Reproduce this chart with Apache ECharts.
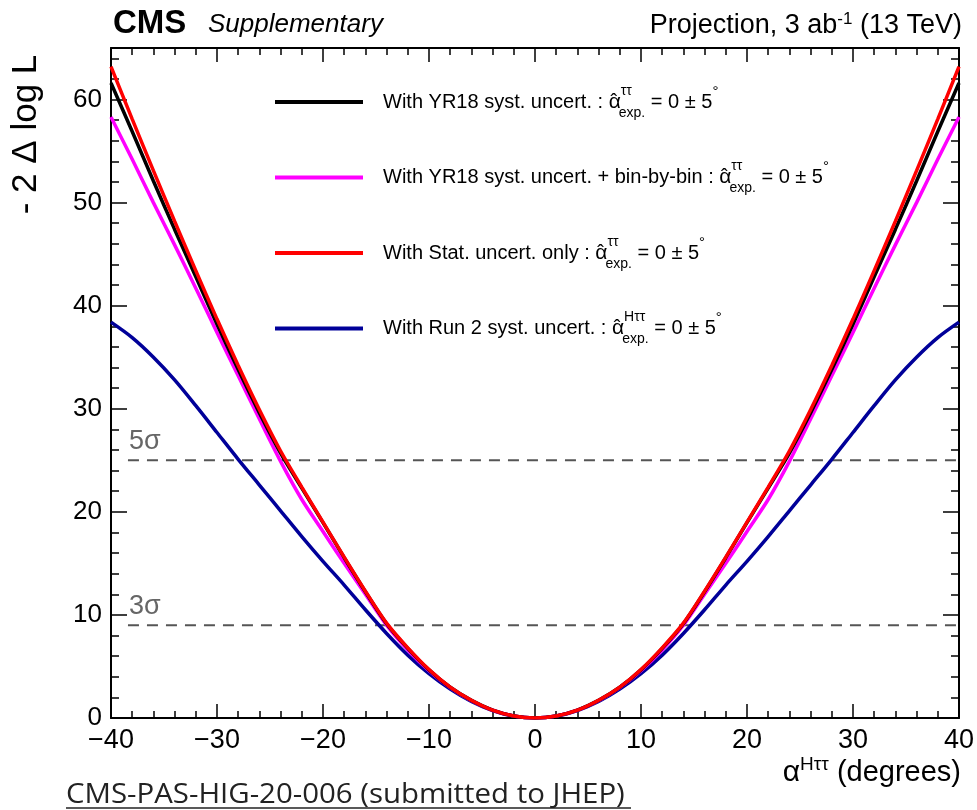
<!DOCTYPE html>
<html>
<head>
<meta charset="utf-8">
<title>alpha Htautau likelihood scan</title>
<script src="https://cdn.jsdelivr.net/npm/echarts@6/dist/echarts.min.js"></script>
<style>
  html, body { margin: 0; padding: 0; background: #fff; }
  #main { width: 977px; height: 810px; }
</style>
</head>
<body>
<div id="main"></div>
<script>
// scan points, degrees
const angles = [-40, -38, -36, -34, -32, -30, -28, -26, -24, -22, -20, -18, -16, -14, -12, -10, -8, -6, -4, -2, 0,
  2, 4, 6, 8, 10, 12, 14, 16, 18, 20, 22, 24, 26, 28, 30, 32, 34, 36, 38, 40]

// -2 delta log L
const yr18Syst = [61.6, 56.9, 52.1, 47.4, 42.8, 38.2, 33.8, 29.6, 25.7, 22.3, 18.95, 15.55, 12.25, 9.15, 6.76, 4.67, 2.98, 1.71, 0.76, 0.19, 0,
  0.19, 0.76, 1.71, 2.98, 4.67, 6.76, 9.15, 12.25, 15.55, 18.95, 22.3, 25.7, 29.6, 33.8, 38.2, 42.8, 47.4, 52.1, 56.9, 61.6]
const yr18BinByBin = [58.3, 54.2, 50.0, 45.9, 41.7, 37.4, 33.2, 29.0, 24.9, 21.2, 18.1, 15.0, 12.0, 9.0, 6.6, 4.6, 2.95, 1.68, 0.75, 0.19, 0,
  0.19, 0.75, 1.68, 2.95, 4.6, 6.6, 9.0, 12.0, 15.0, 18.1, 21.2, 24.9, 29.0, 33.2, 37.4, 41.7, 45.9, 50.0, 54.2, 58.3]
const statOnly = [63.2, 58.1, 53.1, 48.2, 43.4, 38.7, 34.2, 29.9, 25.9, 22.4, 19.0, 15.6, 12.3, 9.2, 6.8, 4.7, 3.0, 1.72, 0.76, 0.19, 0,
  0.19, 0.76, 1.72, 3.0, 4.7, 6.8, 9.2, 12.3, 15.6, 19.0, 22.4, 25.9, 29.9, 34.2, 38.7, 43.4, 48.2, 53.1, 58.1, 63.2]
const run2Syst = [38.4, 36.9, 35.0, 32.8, 30.3, 27.7, 25.1, 22.6, 20.1, 17.6, 15.2, 12.9, 10.5, 8.2, 6.1, 4.3, 2.8, 1.6, 0.72, 0.18, 0,
  0.18, 0.72, 1.6, 2.8, 4.3, 6.1, 8.2, 10.5, 12.9, 15.2, 17.6, 20.1, 22.6, 25.1, 27.7, 30.3, 32.8, 35.0, 36.9, 38.4]

const sigmaLevels = [25, 9]
const sigmaNames = ['5σ', '3σ']
const sigmaStart = -38.4

const seriesNames = ['With YR18 syst. uncert.', 'With YR18 syst. uncert. + bin-by-bin', 'With Stat. uncert. only', 'With Run 2 syst. uncert.']
const seriesColors = ['#000000', '#ff00ff', '#ff0000', '#000099']
const seriesValues = [yr18Syst, yr18BinByBin, statOnly, run2Syst]
const supTexts = ['ττ', 'ττ', 'ττ', 'Hττ']

const FONT = "'Liberation Sans', Arial, Helvetica, sans-serif"

function pairs (vals) {
  return angles.map((a, i) => [a, vals[i]])
}

function minus (v) {
  return v < 0 ? '\u2212' + Math.abs(v) : String(v)
}

const legendRich = {
  g: { width: 15 },
  t: { fontSize: 20, fontFamily: FONT, color: '#000', lineHeight: 36 },
  a: { fontSize: 21, fontFamily: FONT, color: '#000', lineHeight: 36 },
  // hat pulled back over the alpha, zero net advance
  hat: { fontSize: 20, fontFamily: FONT, color: '#000', lineHeight: 36, padding: [0, 3.6, 0, -10.3] },
  sup: { fontSize: 14, fontFamily: FONT, color: '#000', lineHeight: 16, verticalAlign: 'top' },
  sub: { fontSize: 14, fontFamily: FONT, color: '#000', lineHeight: 16, verticalAlign: 'bottom', padding: [0, 0, 0, -13] },
  sub2: { fontSize: 14, fontFamily: FONT, color: '#000', lineHeight: 16, verticalAlign: 'bottom', padding: [0, 0, 0, -23] },
  deg: { fontSize: 15, fontFamily: FONT, color: '#000', lineHeight: 12, verticalAlign: 'top' }
}

function legendText (name) {
  const i = seriesNames.indexOf(name)
  const sub = supTexts[i].length > 2 ? 'sub2' : 'sub'
  return '{g|}{t|' + name + ' : }{a|α}{hat|ˆ}{sup|' + supTexts[i] + '}{' + sub + '|exp.}{t| = 0 ± 5}{deg|°}'
}

function tickAxis (pos, interval, len, withLabel, withLine) {
  const isX = pos === 'top' || pos === 'bottom'
  return {
    type: 'value',
    position: pos,
    min: isX ? -40 : 0,
    max: isX ? 40 : 65,
    interval: interval,
    axisLine: { show: withLine, onZero: false, lineStyle: { color: '#000', width: 2 } },
    axisTick: { show: true, inside: true, length: len, lineStyle: { color: '#000', width: 1.5 } },
    minorTick: isX ? { show: true, splitNumber: 5, length: 7, lineStyle: { color: '#000', width: 1.5 } } : { show: false },
    splitLine: { show: false },
    axisLabel: withLabel ? {
      show: true,
      fontSize: isX ? 27 : 26,
      fontFamily: FONT,
      color: '#000',
      margin: 9,
      showMaxLabel: isX,
      formatter: minus
    } : { show: false }
  }
}

const chart = echarts.init(document.getElementById('main'))

const series = []
sigmaLevels.forEach((lvl, i) => {
  series.push({
    name: sigmaNames[i],
    type: 'line',
    data: [[sigmaStart, lvl], [40, lvl]],
    symbol: 'none',
    silent: true,
    z: 1,
    lineStyle: { color: '#555', width: 2, type: [11, 8] }
  })
})
// draw order: blue, magenta, black, red on top
;[3, 1, 0, 2].forEach((k, j) => {
  series.push({
    name: seriesNames[k],
    type: 'line',
    data: pairs(seriesValues[k]),
    symbol: 'none',
    smooth: 0.3,
    silent: true,
    z: 3 + j,
    color: seriesColors[k],
    itemStyle: { color: seriesColors[k] },
    lineStyle: { color: seriesColors[k], width: 3.5 }
  })
})

chart.setOption({
  animation: false,
  backgroundColor: '#fff',
  grid: { left: 111, right: 16, top: 48, bottom: 92, containLabel: false },
  xAxis: [
    tickAxis('bottom', 10, 14, true, true),
    tickAxis('top', 10, 14, false, true)
  ],
  yAxis: [
    tickAxis('left', 10, 16, true, true),
    tickAxis('left', 2, 8, false, false),
    tickAxis('right', 10, 16, false, true),
    tickAxis('right', 2, 8, false, false)
  ],
  legend: {
    data: seriesNames,
    orient: 'vertical',
    left: 270,
    top: 79,
    itemWidth: 88,
    itemHeight: 4,
    itemGap: 39.5,
    icon: 'rect',
    selectedMode: false,
    formatter: legendText,
    textStyle: { fontFamily: FONT, fontSize: 20, color: '#000', rich: legendRich }
  },
  series: series
})

const graphics = [
  {
    type: 'text', x: 113, y: 24,
    style: { text: 'CMS', font: 'bold 33px ' + FONT, fill: '#000', verticalAlign: 'middle' }
  },
  {
    type: 'text', x: 208, y: 24.5,
    style: { text: 'Supplementary', font: 'italic 26px ' + FONT, fill: '#000', verticalAlign: 'middle' }
  },
  {
    type: 'text', x: 962, y: 26,
    style: {
      text: '{p|Projection, 3 ab}{s|-1}{p| (13 TeV)}',
      align: 'right',
      verticalAlign: 'middle',
      rich: {
        p: { fontSize: 27, fontFamily: FONT, color: '#000', lineHeight: 30 },
        s: { fontSize: 17, fontFamily: FONT, color: '#000', lineHeight: 16, verticalAlign: 'top' }
      }
    }
  },
  {
    type: 'text', x: 26, y: 134.5, rotation: Math.PI / 2,
    style: { text: '- 2 Δ log L', fontSize: 35, fontFamily: FONT, fill: '#000', align: 'center', verticalAlign: 'middle' }
  },
  {
    type: 'text', x: 961, y: 773,
    style: {
      text: '{a|α}{s|Hττ}{t| (degrees)}',
      align: 'right',
      verticalAlign: 'middle',
      rich: {
        a: { fontSize: 30, fontFamily: FONT, color: '#000', lineHeight: 36 },
        s: { fontSize: 19, fontFamily: FONT, color: '#000', lineHeight: 20, verticalAlign: 'top' },
        t: { fontSize: 29, fontFamily: FONT, color: '#000', lineHeight: 36 }
      }
    }
  },
  {
    type: 'text', x: 66, y: 795, scaleX: 1.05,
    style: { text: 'CMS-PAS-HIG-20-006 (submitted to JHEP)', fontSize: 28, fontFamily: "'Open Sans', sans-serif", fill: '#222', verticalAlign: 'middle' }
  },
  {
    type: 'line',
    shape: { x1: 66, y1: 808, x2: 631, y2: 808 },
    style: { stroke: '#222', lineWidth: 1.5 }
  }
]

sigmaLevels.forEach((lvl, i) => {
  const p = chart.convertToPixel({ xAxisIndex: 0, yAxisIndex: 0 }, [sigmaStart, lvl])
  graphics.push({
    type: 'text', x: p[0] + 1, y: p[1] - 19,
    style: { text: sigmaNames[i], fontSize: 27, fontFamily: FONT, fill: '#666', verticalAlign: 'middle' }
  })
})

chart.setOption({ graphic: graphics })
</script>
</body>
</html>
